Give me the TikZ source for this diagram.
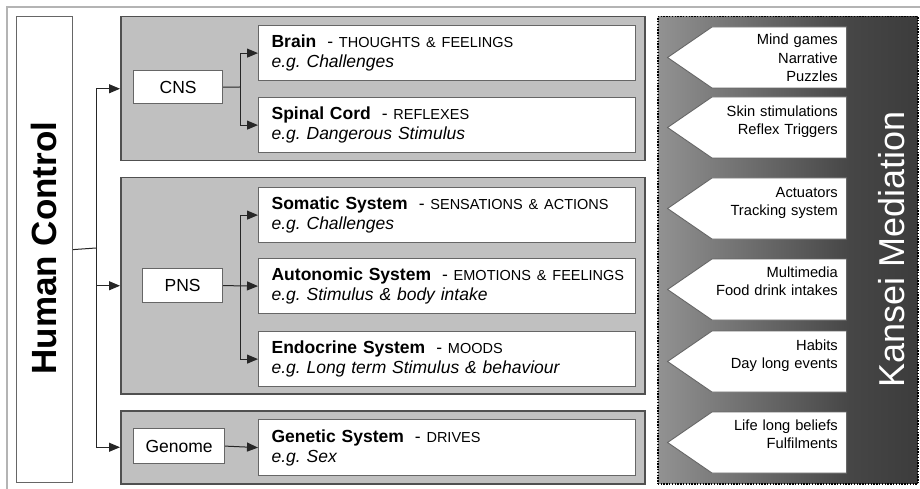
\documentclass[tikz,border=0pt]{standalone}
\usepackage{fontspec}
\setmainfont{Liberation Sans}
\usetikzlibrary{arrows.meta,shapes.symbols}

\definecolor{panelfill}{HTML}{C0C0C0}
\definecolor{paneledge}{HTML}{505050}
\definecolor{boxedge}{HTML}{666666}
\definecolor{framegray}{HTML}{B4B4B4}
\definecolor{kl}{HTML}{929292}
\definecolor{kd}{HTML}{464646}
\definecolor{kdd}{HTML}{3C3C3C}
% horizontal fade of the mediation panel (25bp..75bp spans the panel)
\pgfdeclarehorizontalshading{kansei}{100bp}{color(0bp)=(kl); color(25bp)=(kl); color(62bp)=(kd); color(75bp)=(kdd); color(100bp)=(kdd)}

\frenchspacing
\newcommand\capsz[1]{{\fontsize{14.5}{20}\selectfont #1}}
% system entry: bold name, upper-case role, italic example
\newcommand\sysentry[3]{\mbox{\textbf{#1}\hspace{11pt}-\ \capsz{#2}}\\\textit{#3}}

\begin{document}
\begin{tikzpicture}[x=1pt,y=-1pt,
  panel/.style={draw=paneledge, line width=1.5pt, fill=panelfill, anchor=north west, inner sep=0pt},
  wbox/.style={draw=boxedge, line width=1.2pt, fill=white, anchor=north west, inner sep=0pt,
    font=\fontsize{17.5}{20}\selectfont},
  sysbox/.style={wbox, minimum width=377pt, minimum height=55pt, text width=351pt, align=left},
  conn/.style={draw=black!85, line width=1pt},
  arr/.style={conn, -{Triangle[length=11pt,width=9pt]}},
  kpent/.style={signal, signal to=west, signal pointer angle=69, fill=white,
    draw=black!60, line width=0.9pt, minimum width=179pt, minimum height=61pt,
    inner sep=0pt, anchor=east},
  ktext/.style={anchor=base east, text width=160pt, align=right, inner sep=0pt,
    font=\fontsize{14.7}{18.3}\selectfont},
]
\useasboundingbox (0,0) rectangle (920,489);

% outer frame
\draw[framegray, line width=1.5pt] (7,489) -- (7,7) -- (920,7);

% left column
\node[wbox, minimum width=56pt, minimum height=466pt] (hc) at (16,16) {};
\node[rotate=90, font=\fontsize{35}{40}\selectfont\bfseries] (hclabel) at (44,248) {Human Control};

% grey group panels
\node[panel, minimum width=524pt, minimum height=144pt] (cnsp) at (120,16) {};
\node[panel, minimum width=524pt, minimum height=216pt] (pnsp) at (120,177) {};
\node[panel, minimum width=524pt, minimum height=73pt] (genp) at (120,410) {};

% group heads
\node[wbox, minimum width=89pt, minimum height=33pt] (cns) at (133,70) {CNS};
\node[wbox, minimum width=80pt, minimum height=34pt] (pns) at (142,268) {PNS};
\node[wbox, minimum width=91pt, minimum height=35pt] (genome) at (133,428) {Genome};

% systems
\node[sysbox] (brain) at (258,25)
  {\sysentry{Brain}{THOUGHTS \& FEELINGS}{e.g. Challenges}};
\node[sysbox] (spinal) at (258,97)
  {\sysentry{Spinal Cord}{REFLEXES}{e.g. Dangerous Stimulus}};
\node[sysbox] (soma) at (258,187)
  {\sysentry{Somatic System}{SENSATIONS \& ACTIONS}{e.g. Challenges}};
\node[sysbox] (auto) at (258,258)
  {\sysentry{Autonomic System}{EMOTIONS \& FEELINGS}{e.g. Stimulus \& body intake}};
\node[sysbox] (endo) at (258,331)
  {\sysentry{Endocrine System}{MOODS}{e.g. Long term Stimulus \& behaviour}};
\node[sysbox, minimum height=56pt] (gene) at (258,419)
  {\sysentry{Genetic System}{DRIVES}{e.g. Sex}};

% connectors from the left column
\coordinate (hub) at (96,248);
\draw[conn] (hc.east) -- (hub);
\draw[arr] (hub) |- (cnsp.west);
\draw[arr] (hub) |- (pnsp.west);
\draw[arr] (hub) |- (genp.west);

% CNS branches
\coordinate (cj) at (240,87);
\draw[conn] (cns.east) -- (cj);
\draw[arr] (cj) |- (brain.west);
\draw[arr] (cj) |- (spinal.west);

% PNS branches
\coordinate (pj) at (240,285);
\draw[arr] (pns.east) -- (auto.west);
\draw[arr] (pj) |- (soma.west);
\draw[arr] (pj) |- (endo.west);

% genome
\draw[arr] (genome.east) -- (gene.west);

% mediation panel
\node[anchor=north west, inner sep=0pt, minimum width=260pt, minimum height=467pt,
  shading=kansei, draw=black, line width=1.5pt, dash pattern=on 1.4pt off 1.4pt] (kp) at (657,16) {};
\node[rotate=90, text=white, font=\fontsize{36}{40}\selectfont] (kplabel) at (891.5,249) {Kansei Mediation};

\node[kpent] (m1) at (847,57.5) {};
\node[kpent] (m2) at (847,127.5) {};
\node[kpent] (m3) at (847,208.5) {};
\node[kpent] (m4) at (847,289.5) {};
\node[kpent] (m5) at (847,361.5) {};
\node[kpent] (m6) at (847,442.5) {};

\node[ktext] (t1) at (838,45) {Mind games\\Narrative\\Puzzles};
\node[ktext] (t2) at (838,116.5) {Skin stimulations\\Reflex Triggers};
\node[ktext] (t3) at (838,197) {Actuators\\Tracking system};
\node[ktext] (t4) at (838,277) {Multimedia\\Food drink intakes};
\node[ktext] (t5) at (838,350) {Habits\\Day long events};
\node[ktext] (t6) at (838,430) {Life long beliefs\\Fulfilments};
\end{tikzpicture}
\end{document}
